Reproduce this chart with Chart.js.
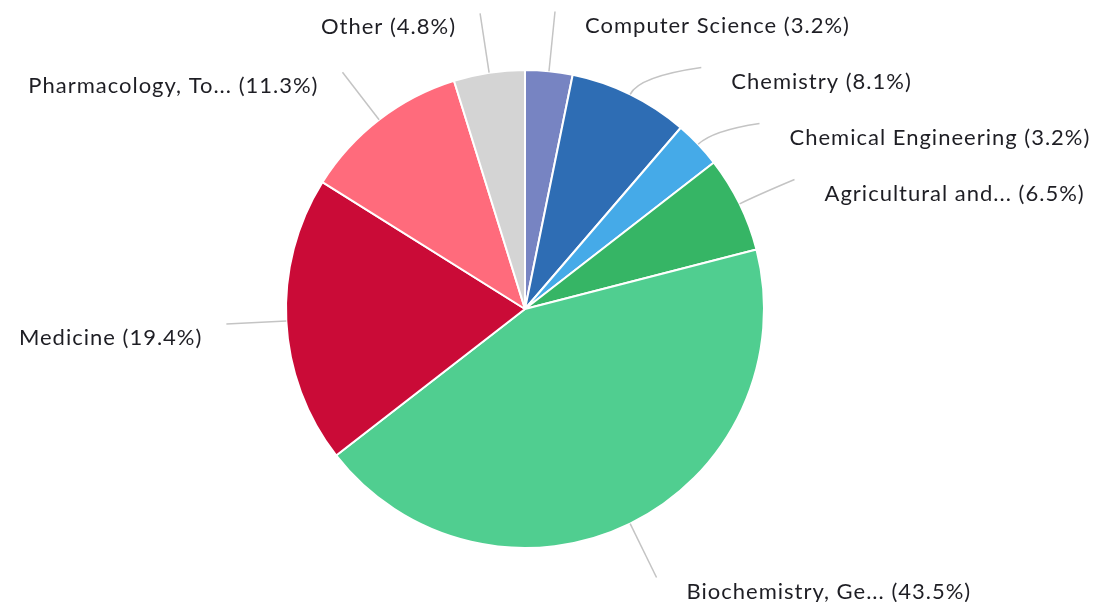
<!DOCTYPE html>
<html>
<head>
<meta charset="utf-8">
<script src="https://cdn.jsdelivr.net/npm/chart.js@4"></script>
<style>
  html, body { margin: 0; padding: 0; background: #fff; }
  #wrap { width: 1105px; height: 602px; position: relative; }
</style>
</head>
<body>
<div id="wrap"><canvas id="myChart"></canvas></div>
<script>
// subject areas, clockwise from the top
const subjects = ['Computer Science', 'Chemistry', 'Chemical Engineering', 'Agricultural and...',
    'Biochemistry, Ge...', 'Medicine', 'Pharmacology, To...', 'Other'];
const shares = [3.2, 8.1, 3.2, 6.5, 43.5, 19.4, 11.3, 4.8]; // percent
const sliceColors = ['#7784c2', '#2e6db4', '#45aae8', '#36b565', '#50ce90', '#ca0b37', '#ff6b7c', '#d4d4d4'];

// draws the outside labels with curved leader lines
const outsideLabels = {
    id: 'outsideLabels',
    afterDatasetsDraw(chart) {
        const ctx = chart.ctx;
        const arcs = chart.getDatasetMeta(0).data;
        const items = arcs.map((arc, i) => {
            const p = arc.getProps(['x', 'y', 'startAngle', 'endAngle', 'outerRadius'], true);
            const a = (p.startAngle + p.endAngle) / 2;
            const R = p.outerRadius + 60;
            return {
                i, a, cx: p.x, cy: p.y, r: p.outerRadius, R,
                right: Math.cos(a) >= 0,
                y: p.y + R * Math.sin(a)
            };
        });

        // push labels apart on each side
        [true, false].forEach(side => {
            const list = items.filter(it => it.right === side).sort((u, v) => u.y - v.y);
            for (let k = 1; k < list.length; k++) {
                list[k].y = Math.max(list[k].y, list[k - 1].y + 56);
            }
        });

        ctx.save();
        ctx.font = '22px Lato, "DejaVu Sans", sans-serif';
        ctx.letterSpacing = '1px';
        ctx.textBaseline = 'middle';
        items.forEach(it => {
            const dy = it.y - it.cy;
            const dx = Math.sqrt(Math.max(it.R * it.R - dy * dy, 0));
            const ex = it.right ? it.cx + dx : it.cx - dx;
            const sx = it.cx + it.r * Math.cos(it.a);
            const sy = it.cy + it.r * Math.sin(it.a);
            const qx = it.cx + (it.r + 20) * Math.cos(it.a);
            const qy = it.cy + (it.r + 20) * Math.sin(it.a);

            ctx.strokeStyle = '#c4c4c4';
            ctx.lineWidth = 1.5;
            ctx.beginPath();
            ctx.moveTo(sx, sy);
            ctx.quadraticCurveTo(qx, qy, ex, it.y);
            ctx.stroke();

            ctx.fillStyle = '#1e1e24';
            ctx.textAlign = it.right ? 'left' : 'right';
            const txt = subjects[it.i] + ' (' + shares[it.i] + '%)';
            ctx.fillText(txt, it.right ? ex + 30 : ex - 24, it.y + 14);
        });
        ctx.restore();
    }
};

const ctx = document.getElementById('myChart');
const myChart = new Chart(ctx, {
    type: 'pie',
    data: {
        labels: subjects,
        datasets: [{
            data: shares,
            backgroundColor: sliceColors,
            borderColor: '#ffffff',
            borderWidth: 2
        }]
    },
    options: {
        responsive: true,
        maintainAspectRatio: false,
        animation: false,
        layout: {
            padding: { top: 69, bottom: 53, left: 285, right: 340 }
        },
        plugins: {
            legend: { display: false },
            tooltip: { enabled: false }
        }
    },
    plugins: [outsideLabels]
});
</script>
</body>
</html>
